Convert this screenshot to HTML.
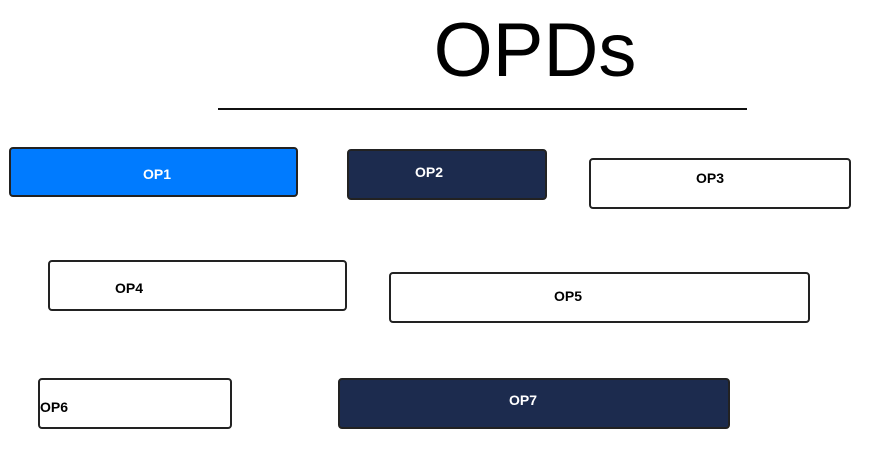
<!DOCTYPE html>
<html><head><meta charset="utf-8"><style>
body{margin:0;width:882px;height:472px;background:#fff;position:relative;overflow:hidden;font-family:"Liberation Sans",sans-serif}
.t{position:absolute;left:0;width:1070px;top:6px;text-align:center;font-size:76px;line-height:90px;color:#000}
.ln{position:absolute;left:218px;top:108px;width:529px;height:2px;background:#111}
.b{position:absolute;box-sizing:border-box;border:2px solid #222;border-radius:4px;background:#fff}
.b span{position:absolute;font-weight:bold;font-size:14px;line-height:16px;transform:translate(-50%,-50%);color:#000}
.d{background:#1c2b4e}.d span{color:#fff}
.p{background:#007bff}.p span{color:#fff}
</style></head><body>
<div class="t">OPDs</div>
<div class="ln"></div>
<div class="b p" style="left:9px;top:147px;width:289px;height:50px"><span style="left:146px;top:25px">OP1</span></div>
<div class="b d" style="left:347px;top:149px;width:200px;height:51px"><span style="left:80px;top:21px">OP2</span></div>
<div class="b" style="left:589px;top:158px;width:262px;height:51px"><span style="left:119px;top:18px">OP3</span></div>
<div class="b" style="left:48px;top:260px;width:299px;height:51px"><span style="left:79px;top:26px">OP4</span></div>
<div class="b" style="left:389px;top:272px;width:421px;height:51px"><span style="left:177px;top:22px">OP5</span></div>
<div class="b" style="left:38px;top:378px;width:194px;height:51px"><span style="left:14px;top:27px">OP6</span></div>
<div class="b d" style="left:338px;top:378px;width:392px;height:51px"><span style="left:183px;top:20px">OP7</span></div>
</body></html>
